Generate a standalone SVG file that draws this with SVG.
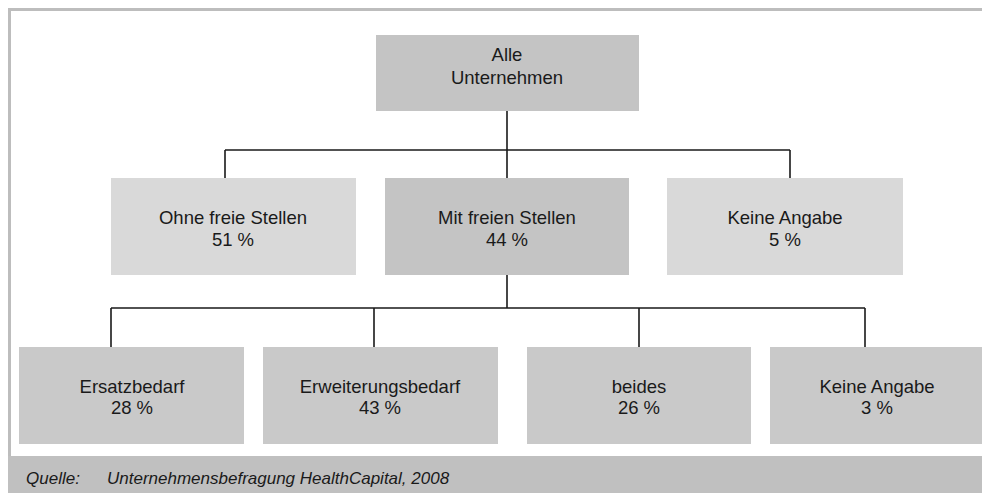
<svg xmlns="http://www.w3.org/2000/svg" width="982" height="493" viewBox="0 0 982 493">
<style>
.t{font-family:"Liberation Sans",Arial,sans-serif;font-size:18.5px;fill:#1a1a1a;text-anchor:middle}
.dark{fill:#c4c4c4}
.light{fill:#d9d9d9}
.low{fill:#c9c9c9}
.con{stroke:#1a1a1a;stroke-width:1.6;fill:none}
.src{font-family:"Liberation Sans",Arial,sans-serif;font-style:italic;font-size:17px;fill:#1a1a1a}
</style>
<rect x="0" y="0" width="982" height="493" fill="#ffffff"/>
<rect x="8" y="8" width="974" height="3" fill="#bdbdbd"/>
<rect x="8" y="8" width="3" height="448" fill="#bdbdbd"/>
<rect x="8" y="456" width="974" height="37" fill="#c0c0c0"/>
<g id="connectors">
<path class="con" d="M507 111V150M225 150H790M225 150V178M507 150V178M790 150V178"/>
<path class="con" d="M507 275V308M111 308H865M111 308V347M374 308V347M639 308V347M865 308V347"/>
</g>
<g id="n_alle"><rect class="dark" x="376" y="35" width="263" height="76"/><text class="t" x="507" y="61">Alle</text><text class="t" x="507" y="84">Unternehmen</text></g>
<g id="n_ohne"><rect class="light" x="111" y="178" width="245" height="97"/><text class="t" x="233" y="224">Ohne freie Stellen</text><text class="t" x="233" y="246">51 %</text></g>
<g id="n_mit"><rect class="dark" x="385" y="178" width="244" height="97"/><text class="t" x="507" y="224">Mit freien Stellen</text><text class="t" x="507" y="246">44 %</text></g>
<g id="n_keine1"><rect class="light" x="667" y="178" width="236" height="97"/><text class="t" x="785" y="224">Keine Angabe</text><text class="t" x="785" y="246">5 %</text></g>
<g id="n_ersatz"><rect class="low" x="19" y="347" width="225" height="97"/><text class="t" x="132" y="393">Ersatzbedarf</text><text class="t" x="132" y="414">28 %</text></g>
<g id="n_erweiterung"><rect class="low" x="263" y="347" width="235" height="97"/><text class="t" x="380" y="393">Erweiterungsbedarf</text><text class="t" x="380" y="414">43 %</text></g>
<g id="n_beides"><rect class="low" x="527" y="347" width="224" height="97"/><text class="t" x="639" y="393">beides</text><text class="t" x="639" y="414">26 %</text></g>
<g id="n_keine2"><rect class="low" x="770" y="347" width="212" height="97"/><text class="t" x="877" y="393">Keine Angabe</text><text class="t" x="877" y="414">3 %</text></g>
<g id="source"><text class="src" x="26" y="484">Quelle:</text><text class="src" x="107" y="484">Unternehmensbefragung HealthCapital, 2008</text></g>
</svg>
